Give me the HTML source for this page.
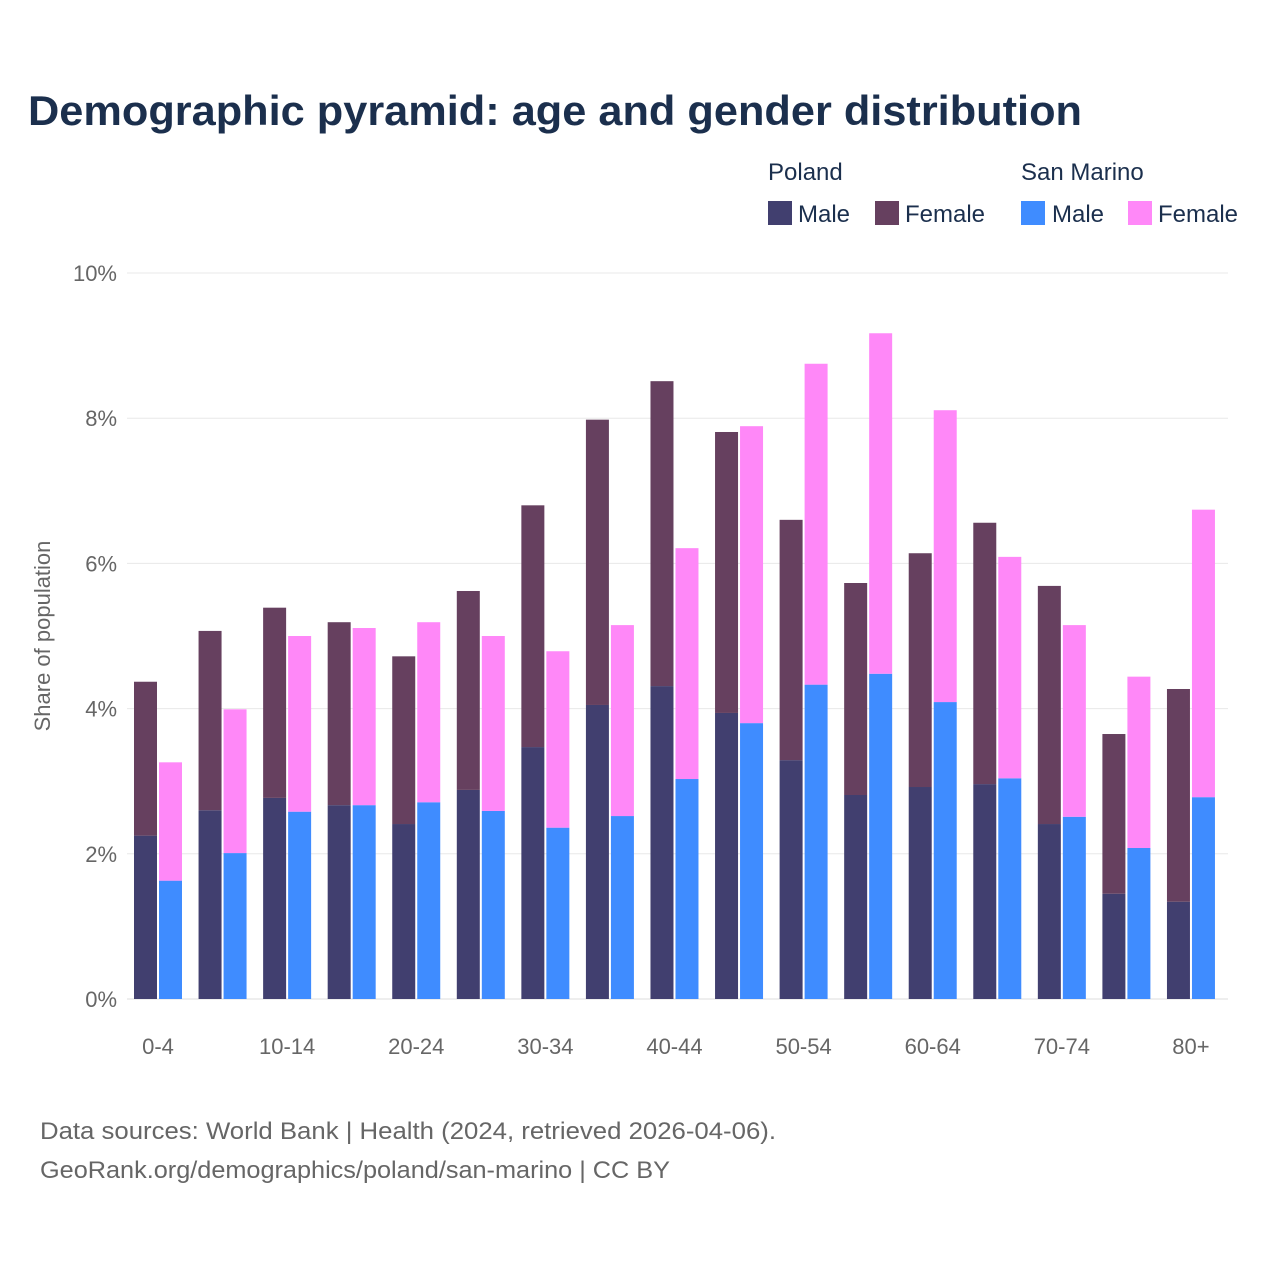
<!DOCTYPE html>
<html><head><meta charset="utf-8"><style>
body{margin:0;background:#fff;font-family:"Liberation Sans",sans-serif}
</style></head><body>
<svg width="1280" height="1280" viewBox="0 0 1280 1280">
<text x="28" y="125" font-size="42" font-weight="bold" fill="#1b2f4d" textLength="1054" lengthAdjust="spacingAndGlyphs">Demographic pyramid: age and gender distribution</text>
<g font-size="24" fill="#1b2f4d">
<text x="768" y="180">Poland</text>
<text x="1021" y="180">San Marino</text>
<rect x="768" y="201" width="24" height="24" fill="#413f6f"/>
<text x="798" y="222">Male</text>
<rect x="875" y="201" width="24" height="24" fill="#66405f"/>
<text x="905" y="222">Female</text>
<rect x="1021" y="201" width="24" height="24" fill="#3f8cff"/>
<text x="1052" y="222">Male</text>
<rect x="1128" y="201" width="24" height="24" fill="#ff88f8"/>
<text x="1158" y="222">Female</text>
</g>
<g id="grid"></g>
<g id="bars"></g>
<g id="xlabels"></g>
<text transform="translate(50,636) rotate(-90)" text-anchor="middle" font-size="22" fill="#666">Share of population</text>
<text x="40" y="1139" font-size="24" fill="#666" textLength="736" lengthAdjust="spacingAndGlyphs">Data sources: World Bank | Health (2024, retrieved 2026-04-06).</text>
<text x="40" y="1178" font-size="24" fill="#666" textLength="630" lengthAdjust="spacingAndGlyphs">GeoRank.org/demographics/poland/san-marino | CC BY</text>
</svg>
<script>
const categories=["0-4","5-9","10-14","15-19","20-24","25-29","30-34","35-39","40-44","45-49","50-54","55-59","60-64","65-69","70-74","75-79","80+"];
const polandMale=[2.25,2.60,2.77,2.67,2.41,2.88,3.47,4.05,4.31,3.94,3.29,2.81,2.92,2.96,2.41,1.45,1.34];
const polandFemale=[2.12,2.47,2.62,2.52,2.31,2.74,3.33,3.93,4.20,3.87,3.31,2.92,3.22,3.60,3.28,2.20,2.93];
const smMale=[1.63,2.01,2.58,2.67,2.71,2.59,2.36,2.52,3.03,3.80,4.33,4.48,4.09,3.04,2.51,2.08,2.78];
const smFemale=[1.63,1.98,2.42,2.44,2.48,2.41,2.43,2.63,3.18,4.09,4.42,4.69,4.02,3.05,2.64,2.36,3.96];
const yTicks=[0,2,4,6,8,10];
const NS="http://www.w3.org/2000/svg";
const y0=999,pxPer=72.6,x0=158,step=64.56;
const y=v=>y0-v*pxPer;
const xc=i=>x0+i*step;
function mk(tag,attrs,parent){const e=document.createElementNS(NS,tag);for(const k in attrs)e.setAttribute(k,attrs[k]);parent.appendChild(e);return e;}
const grid=document.getElementById('grid'),bars=document.getElementById('bars'),xl=document.getElementById('xlabels');
yTicks.forEach(t=>{
 const l=mk('line',{x1:127,x2:1228,y1:y(t),y2:y(t),stroke:t===0?'#ddd':'#e8e8e8','stroke-width':1},grid);
 
 
 const tx=mk('text',{x:117,y:y(t)+8,'text-anchor':'end','font-size':22,fill:'#666'},grid);
 tx.textContent=t+'%';
 
 
});
categories.forEach((c,i)=>{
 const segs=[[xc(i)-24,0,polandMale[i],'#413f6f','poland-male'],[xc(i)-24,polandMale[i],polandMale[i]+polandFemale[i],'#66405f','poland-female'],
 [xc(i)+1,0,smMale[i],'#3f8cff','sm-male'],[xc(i)+1,smMale[i],smMale[i]+smFemale[i],'#ff88f8','sm-female']];
 segs.forEach(s=>{
  const r=mk('rect',{x:s[0],y:y(s[2]),width:23,height:y(s[1])-y(s[2]),fill:s[3]},bars);
  
  
 });
 if(i%2===0){
  const t=mk('text',{x:xc(i),y:1054,'text-anchor':'middle','font-size':22,fill:'#666'},xl);
  t.textContent=c;
  
  
 }
});
</script>
</body></html>
